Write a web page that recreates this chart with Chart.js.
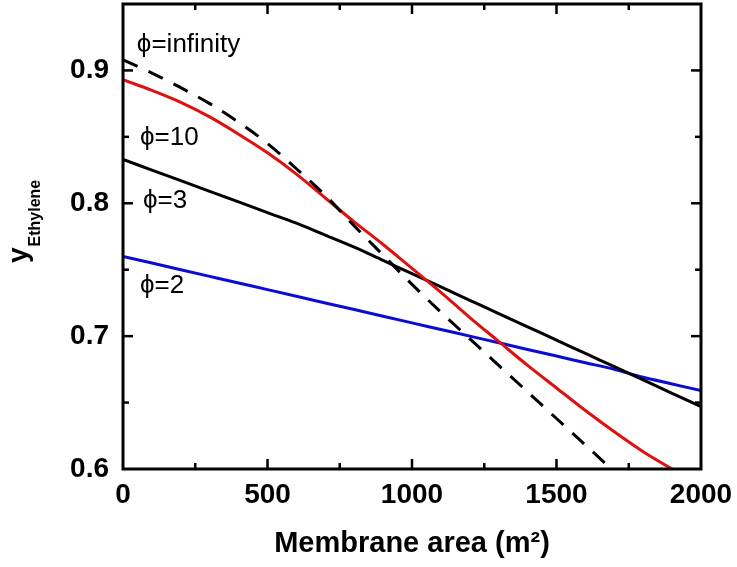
<!DOCTYPE html>
<html>
<head>
<meta charset="utf-8">
<script src="https://cdn.jsdelivr.net/npm/chart.js@4.4.1/dist/chart.umd.min.js"></script>
<style>
  body { margin: 0; background: #fff; }
</style>
</head>
<body>
<canvas id="yield_chart" width="737" height="567"></canvas>
<script>
// membrane area (m2)
var area = [0, 100, 200, 300, 400, 500, 600, 700, 800, 900, 1000, 1100, 1200, 1300, 1400, 1500, 1600, 1700, 1800, 1900, 2000];

// y ethylene for each phi
var phi_inf = [0.908, 0.898, 0.887, 0.875, 0.861, 0.845, 0.826, 0.806, 0.783, 0.761, 0.739, 0.718, 0.698, 0.678, 0.658, 0.638, 0.618, 0.598, null, null, null];
var phi_10 = [0.893, 0.885, 0.876, 0.865, 0.852, 0.838, 0.822, 0.804, 0.786, 0.769, 0.751, 0.733, 0.714, 0.696, 0.678, 0.661, 0.644, 0.628, 0.613, 0.600, 0.588];
var phi_3 = [0.833, 0.825, 0.817, 0.809, 0.801, 0.793, 0.785, 0.776, 0.767, 0.757, 0.747, 0.737, 0.727, 0.717, 0.707, 0.697, 0.687, 0.677, 0.667, 0.657, 0.647];
var phi_2 = [0.760, 0.755, 0.750, 0.745, 0.740, 0.735, 0.730, 0.725, 0.720, 0.715, 0.710, 0.705, 0.700, 0.695, 0.690, 0.685, 0.680, 0.675, 0.669, 0.664, 0.659];

// tick labels
var x_ticks = [0, 500, 1000, 1500, 2000];
var y_ticks = [0.6, 0.7, 0.8, 0.9];

// curve labels (text, area, y)
var label_text = ["\u03d5=infinity", "\u03d5=10", "\u03d5=3", "\u03d5=2"];
var label_x = [48, 59, 69, 59];
var label_y = [0.9195, 0.849, 0.802, 0.7376];

var font_fam = '"Liberation Sans", Arial, sans-serif';

function to_points(ys) {
  var pts = [];
  for (var i = 0; i < area.length; i++) {
    pts.push({ x: area[i], y: ys[i] });
  }
  return pts;
}

function line(c, x1, y1, x2, y2) {
  c.beginPath();
  c.moveTo(x1, y1);
  c.lineTo(x2, y2);
  c.stroke();
}

// stop chart.js from adding room for label overflow
function no_pad(s) {
  s.paddingLeft = 0;
  s.paddingRight = 0;
  s.paddingTop = 0;
  s.paddingBottom = 0;
}

// box, inward ticks on all sides, curve labels, y title with subscript
var frame_plugin = {
  id: "frame",
  afterDatasetsDraw: function (chart) {
    var c = chart.ctx;
    var a = chart.chartArea;
    var xs = chart.scales.x;
    var ys = chart.scales.y;
    c.save();
    c.strokeStyle = "#000";
    c.lineWidth = 3;
    c.strokeRect(a.left, a.top, a.right - a.left, a.bottom - a.top);

    c.lineWidth = 2.5;
    for (var v = 250; v < 2000; v += 250) {
      var px = xs.getPixelForValue(v);
      var len = v % 500 == 0 ? 10 : 6;
      line(c, px, a.bottom, px, a.bottom - len);
      line(c, px, a.top, px, a.top + len);
    }
    for (var i = 1; i < 7; i++) {
      var py = ys.getPixelForValue(0.6 + i * 0.05);
      var len2 = i % 2 == 0 ? 10 : 6;
      line(c, a.left, py, a.left + len2, py);
      line(c, a.right, py, a.right - len2, py);
    }

    c.fillStyle = "#000";
    c.font = "26px " + font_fam;
    c.textAlign = "left";
    c.textBaseline = "middle";
    for (var k = 0; k < label_text.length; k++) {
      c.fillText(label_text[k], xs.getPixelForValue(label_x[k]), ys.getPixelForValue(label_y[k]));
    }

    // y axis title
    c.translate(27, 263);
    c.rotate(-Math.PI / 2);
    c.textBaseline = "alphabetic";
    c.font = "bold 28px " + font_fam;
    c.fillText("y", 0, 0);
    var w = c.measureText("y").width;
    c.font = "bold 16px " + font_fam;
    c.fillText("Ethylene", w + 1, 13);
    c.restore();
  }
};

var ctx = document.getElementById("yield_chart").getContext("2d");
var chart = new Chart(ctx, {
  type: "line",
  data: {
    datasets: [
      { data: to_points(phi_inf), borderColor: "#000", borderDash: [16, 12] },
      { data: to_points(phi_10), borderColor: "#e01010" },
      { data: to_points(phi_3), borderColor: "#000" },
      { data: to_points(phi_2), borderColor: "#0b0bd6" }
    ]
  },
  options: {
    responsive: false,
    animation: false,
    devicePixelRatio: 1,
    spanGaps: false,
    elements: {
      point: { radius: 0 },
      line: { borderWidth: 3, cubicInterpolationMode: "monotone", fill: false }
    },
    layout: {
      padding: { left: 0, right: 36, top: 4, bottom: 0 }
    },
    scales: {
      x: {
        type: "linear",
        min: 0,
        max: 2000,
        afterBuildTicks: function (s) {
          s.ticks = x_ticks.map(function (v) { return { value: v }; });
        },
        afterFit: function (s) { s.height = 98; no_pad(s); },
        grid: { display: false, drawTicks: false },
        border: { display: false },
        ticks: {
          color: "#000",
          padding: 9,
          maxRotation: 0,
          font: { family: font_fam, size: 28, weight: "bold" },
          callback: function (v) { return String(v); }
        },
        title: {
          display: true,
          text: "Membrane area (m\u00b2)",
          color: "#000",
          padding: { top: 0, bottom: 6 },
          font: { family: font_fam, size: 29, weight: "bold" }
        }
      },
      y: {
        type: "linear",
        min: 0.6,
        max: 0.95,
        afterBuildTicks: function (s) {
          s.ticks = y_ticks.map(function (v) { return { value: v }; });
        },
        afterFit: function (s) { s.width = 123; no_pad(s); },
        grid: { display: false, drawTicks: false },
        border: { display: false },
        ticks: {
          color: "#000",
          padding: 14,
          font: { family: font_fam, size: 28, weight: "bold" },
          callback: function (v) { return v.toFixed(1); }
        }
      }
    },
    plugins: {
      legend: { display: false },
      tooltip: { enabled: false }
    }
  },
  plugins: [frame_plugin]
});
</script>
</body>
</html>
